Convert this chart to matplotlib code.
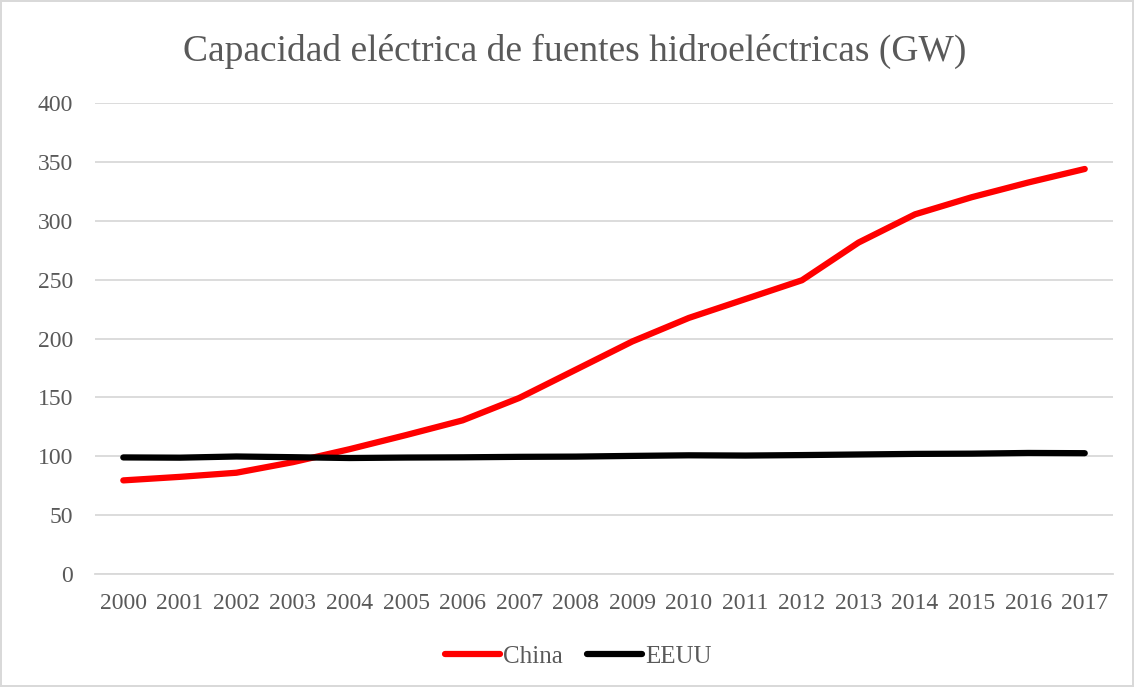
import matplotlib
matplotlib.use('Agg')
import matplotlib.pyplot as plt

# datos
years = list(range(2000, 2018))
china = [79.5, 82.5, 86, 95, 106, 118, 130.5, 149.5, 173.5, 197.5,
         217.5, 233.5, 249.5, 281.5, 305.5, 320, 332.5, 344]
eeuu = [99, 98.8, 99.8, 99.2, 98.5, 98.9, 99.1, 99.5, 99.7, 100.3,
        100.8, 100.6, 101, 101.5, 102, 102.2, 102.8, 102.6]
yticks = [0, 50, 100, 150, 200, 250, 300, 350, 400]

plt.rcParams['font.family'] = ['Liberation Serif', 'DejaVu Serif']
gris = '#595959'

fig = plt.figure(figsize=(11.34, 6.87), dpi=100)
fig.patch.set_edgecolor('#d9d9d9')
fig.patch.set_linewidth(1.5)
ax = fig.add_axes([0.0838, 0.1645, 0.8977, 0.6855])

x = list(range(len(years)))
ax.plot(x, china, color='#ff0000', lw=4.5, solid_capstyle='round', solid_joinstyle='round', label='China')
ax.plot(x, eeuu, color='black', lw=4.5, solid_capstyle='round', solid_joinstyle='round', label='EEUU')

ax.set_xlim(-0.5, len(years) - 0.5)
ax.set_ylim(0, 400)
ax.set_yticks(yticks)
ax.set_xticks(x)
ax.set_xticklabels([str(y) for y in years])
ax.grid(axis='y', color='#d9d9d9', lw=1.3)
ax.set_axisbelow(True)
for s in ['top', 'right', 'left']:
    ax.spines[s].set_visible(False)
ax.spines['bottom'].set_color('#d9d9d9')
ax.spines['bottom'].set_linewidth(1.3)
ax.tick_params(length=0, labelsize=17, colors=gris)
ax.tick_params(axis='x', pad=14)
ax.tick_params(axis='y', pad=16)

fig.text(0.507, 0.925, 'Capacidad eléctrica de fuentes hidroeléctricas (GW)',
         ha='center', va='center', fontsize=27, color=gris)

fig.legend(loc='center', bbox_to_anchor=(0.51, 0.044), ncol=2, frameon=False,
           fontsize=18, labelcolor=gris, handlelength=2.2, columnspacing=1.0, handletextpad=0.1)

fig.savefig('out.png', dpi=100)
